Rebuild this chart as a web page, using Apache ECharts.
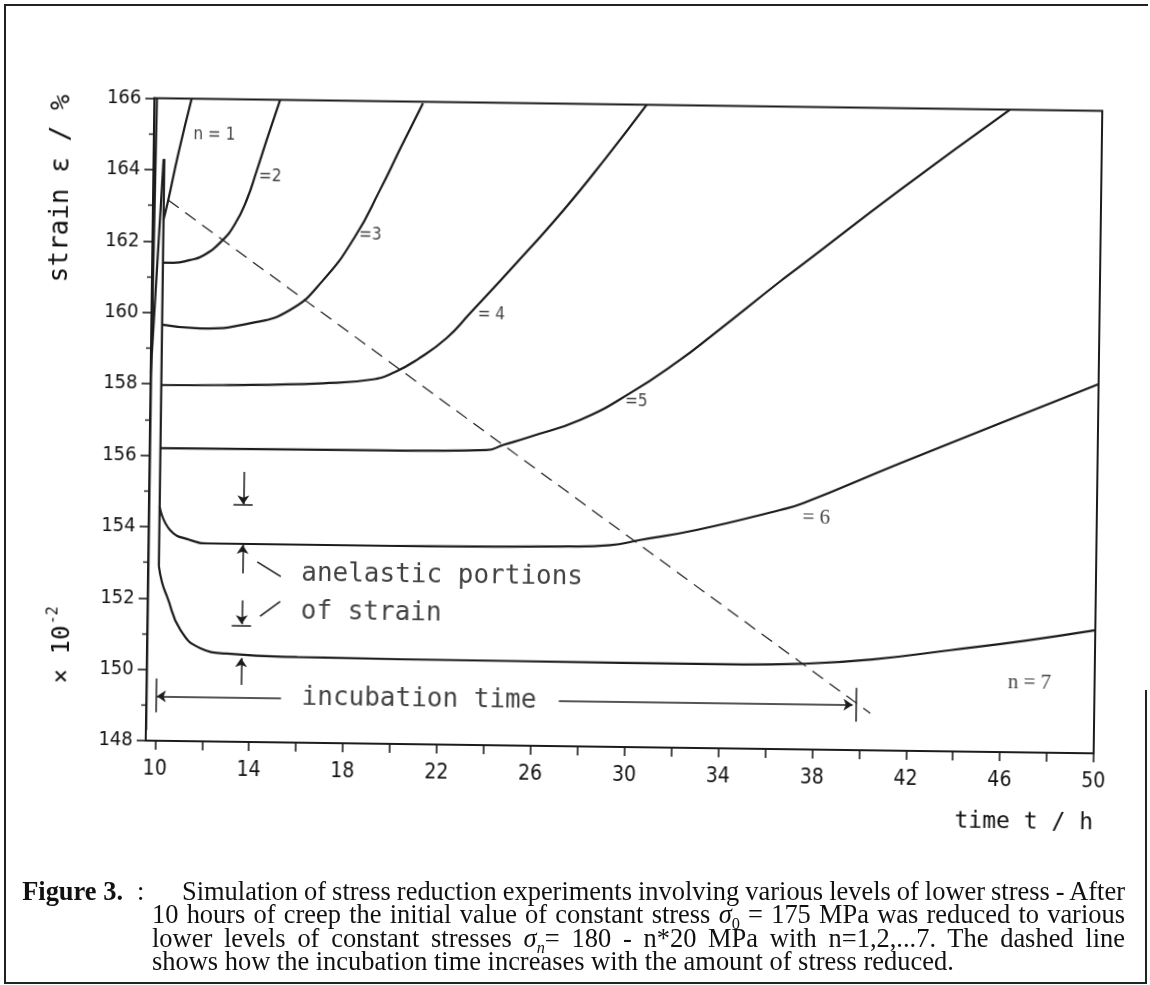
<!DOCTYPE html>
<html>
<head>
<meta charset="utf-8">
<script src="https://cdn.jsdelivr.net/npm/echarts@6/dist/echarts.min.js"></script>
<style>
  html, body { margin: 0; padding: 0; background: #fff; }
  #page { position: relative; width: 1150px; height: 985px; overflow: hidden; background: #fff; }
  #plot { position: absolute; left: 0; top: 0; width: 1150px; height: 985px;
          transform-origin: 624px 426px; transform: rotate(0.77deg); }
  .rule { position: absolute; background: #222; }
  .cap { position: absolute; font-family: "Liberation Serif", "DejaVu Serif", serif; font-size: 25px;
         line-height: 30px; color: #111; white-space: nowrap; }
  .cap sub { font-size: 0.62em; }
</style>
</head>
<body>
<div id="page">
  <div id="plot"></div>
  <div class="rule" style="left:4px;top:4px;width:1144px;height:2px"></div>
  <div class="rule" style="left:4px;top:4px;width:2px;height:980px"></div>
  <div class="rule" style="left:1145px;top:690px;width:2px;height:294px"></div>
  <div class="rule" style="left:4px;top:982px;width:1143px;height:2px"></div>

  <div class="cap" id="capFig"><b>Figure 3.</b></div>
  <div class="cap" id="capColon">:</div>
  <div class="cap" id="cap1">Simulation of stress reduction experiments involving various levels of lower stress - After</div>
  <div class="cap" id="cap2">10 hours of creep the initial value of constant stress <i>σ</i><sub>0</sub> = 175 MPa was reduced to various</div>
  <div class="cap" id="cap3">lower levels of constant stresses <i>σ<sub>n</sub></i>= 180 - n*20 MPa with n=1,2,...7. The dashed line</div>
  <div class="cap" id="cap4">shows how the incubation time increases with the amount of stress reduced.</div>
</div>
<script>
// Axis ticks and labels (time in h, strain in 1e-2 %)
const xTickValues  = [10, 12, 14, 16, 18, 20, 22, 24, 26, 28, 30, 32, 34, 36, 38, 40, 42, 44, 46, 48, 50];
const xLabelValues = [10, 14, 18, 22, 26, 30, 34, 38, 42, 46, 50];

// Creep before the stress reduction and the elastic drop at t = 10 h
const preCurve  = [[9.61, 148.3], [9.62, 158.8], [9.66, 162.0], [9.71, 166.0]];
const loadCurve = [[9.6, 158.3], [10.03, 164.3]];
const dropLine  = [[10.06, 164.3], [10.06, 152.9]];

// Strain curves after reduction to sigma_n, n = 1..7
const curveN1 = [[10.06, 162.6], [10.25, 163.15], [10.65, 164.45], [11.19, 166.0]];
const curveN2 = [[10.06, 161.4], [10.5, 161.4], [11.21, 161.48], [11.79, 161.62], [12.56, 162.03],
                 [13.1, 162.5], [13.59, 163.18], [14.0, 164.0], [14.47, 165.0], [14.96, 166.0]];
const curveN3 = [[10.06, 159.66], [11.68, 159.57], [13.8, 159.73], [15.5, 160.12], [16.9, 160.97],
                 [18.23, 162.2], [19.27, 163.52], [20.15, 164.74], [21.05, 165.96]];
const curveN4 = [[10.06, 157.97], [12.69, 157.99], [16.96, 158.08], [19.0, 158.2], [20.0, 158.42],
                 [21.0, 158.8], [22.19, 159.39], [23.17, 160.09], [24.99, 161.42], [27.1, 163.02],
                 [28.91, 164.53], [30.58, 166.0]];
const curveN5 = [[10.06, 156.2], [19.42, 156.22], [23.96, 156.27], [24.67, 156.42], [25.81, 156.66],
                 [27.93, 157.15], [30.02, 157.91], [32.15, 158.87], [33.56, 159.6], [36.36, 161.1],
                 [37.2, 161.53], [41.42, 163.71], [46.06, 166.0]];
const curveN6 = [[10.06, 154.56], [10.52, 153.91], [11.37, 153.64], [12.23, 153.55], [19.9, 153.55],
                 [27.5, 153.6], [29.27, 153.65], [30.55, 153.81], [32.95, 154.11], [36.49, 154.7],
                 [37.48, 154.9], [41.57, 156.05], [45.82, 157.21], [50.0, 158.35]];
const curveN7 = [[10.06, 152.9], [10.2, 152.45], [10.43, 152.04], [11.02, 151.11], [11.88, 150.61],
                 [13.0, 150.47], [16.0, 150.4], [25.0, 150.37], [35.0, 150.36], [37.5, 150.4],
                 [40.5, 150.55], [43.84, 150.84], [47.0, 151.13], [50.0, 151.45]];

// Incubation-time trend (dashed)
const incubationTrend = [[10.25, 163.15], [40.46, 149.04]];

// Arrow segments: anelastic portions and incubation time
const arrowSegments = [
  [[13.62, 155.57], [13.62, 154.66]],
  [[13.62, 152.72], [13.62, 153.52]],
  [[13.62, 151.97], [13.62, 151.3]],
  [[13.62, 149.6], [13.62, 150.35]],
  [[15.34, 149.25], [10.05, 149.25]],
  [[27.18, 149.27], [39.7, 149.27]]
];
const plainSegments = [
  [[13.2, 154.64], [14.02, 154.64]],
  [[13.2, 151.27], [14.02, 151.27]],
  [[10.0, 149.75], [10.0, 148.8]],
  [[39.83, 149.75], [39.83, 148.8]],
  [[14.25, 153.05], [15.26, 152.65]],
  [[14.4, 151.53], [15.25, 151.95]]
];

// Curve labels (left-middle anchor)
const sansLabels  = [
  { name: 'n = 1', value: [11.28, 164.99] },
  { name: '=2',    value: [14.1, 163.85] },
  { name: '=3',    value: [18.4, 162.25] },
  { name: '= 4',   value: [23.5, 160.05] },
  { name: '=5',    value: [29.83, 157.68] }
];
const serifLabels = [
  { name: '= 6',   value: [37.46, 154.48] },
  { name: 'n = 7', value: [46.3, 149.95] }
];
const noteLabels = [
  { name: 'anelastic portions', value: [16.13, 152.74] },
  { name: 'of strain',          value: [16.13, 151.66] },
  { name: 'incubation time',    value: [16.22, 149.25] }
];

const INK = '#1c1c1c';
const tickFont = '"DejaVu Sans Condensed", "DejaVu Sans", sans-serif';
const monoFont = '"DejaVu Sans Mono", monospace';

function curve(data, smooth) {
  return {
    type: 'line', data: data, symbol: 'none', showSymbol: false,
    smooth: smooth ? 0.5 : false,
    lineStyle: { color: INK, width: 2.2 }, silent: true, z: 3
  };
}
function textSeries(data, font, size) {
  return {
    type: 'scatter', data: data, symbolSize: 0, silent: true, z: 5,
    label: { show: true, position: 'right', distance: 0, formatter: '{b}',
             fontFamily: font, fontSize: size, color: '#111' }
  };
}

const chart = echarts.init(document.getElementById('plot'), null, { renderer: 'canvas' });
chart.setOption({
  animation: false,
  backgroundColor: 'transparent',
  grid: { left: 150, right: 52, top: 104.6, bottom: 237.9, show: true,
          borderColor: INK, borderWidth: 2, backgroundColor: 'transparent' },
  xAxis: {
    type: 'value', min: 9.6, max: 50,
    axisLine: { lineStyle: { color: INK, width: 2 } },
    axisTick: { show: true, customValues: xTickValues, length: 9, lineStyle: { color: INK, width: 1.6 } },
    axisLabel: { customValues: xLabelValues, margin: 18, fontFamily: tickFont, fontSize: 21, color: '#111',
                 formatter: v => String(v) },
    splitLine: { show: false }
  },
  yAxis: {
    type: 'value', min: 148, max: 166, interval: 2,
    axisLine: { show: true, lineStyle: { color: INK, width: 2 } },
    axisTick: { show: true, length: 9, lineStyle: { color: INK, width: 1.6 } },
    minorTick: { show: true, splitNumber: 2, length: 5, lineStyle: { color: INK, width: 1.4 } },
    axisLabel: { margin: 13, fontFamily: tickFont, fontSize: 20, color: '#111' },
    splitLine: { show: false }, minorSplitLine: { show: false }
  },
  series: [
    curve(preCurve, false),
    curve(loadCurve, false),
    curve(dropLine, false),
    curve(curveN1, true),
    curve(curveN2, true),
    curve(curveN3, true),
    curve(curveN4, true),
    curve(curveN5, true),
    curve(curveN6, true),
    curve(curveN7, true),
    {
      type: 'line', data: incubationTrend, symbol: 'none', silent: true, z: 2,
      lineStyle: { color: INK, width: 1.2, type: [13, 8] }
    },
    {
      type: 'lines', coordinateSystem: 'cartesian2d', silent: true, z: 4,
      symbol: ['none', 'arrow'], symbolSize: 9,
      lineStyle: { color: INK, width: 1.5, opacity: 1 },
      data: arrowSegments.map(c => ({ coords: c }))
    },
    {
      type: 'lines', coordinateSystem: 'cartesian2d', silent: true, z: 4,
      symbol: 'none',
      lineStyle: { color: INK, width: 1.5, opacity: 1 },
      data: plainSegments.map(c => ({ coords: c }))
    },
    textSeries(sansLabels, tickFont, 17),
    textSeries(serifLabels, '"Liberation Serif", serif', 21),
    textSeries(noteLabels, monoFont, 26)
  ],
  graphic: [
    { type: 'text', x: 58, y: 196, rotation: Math.PI / 2, silent: true,
      style: { text: 'strain ε / %', font: '26px ' + monoFont, align: 'center', verticalAlign: 'middle', fill: '#111' } },
    { type: 'group', x: 66, y: 662, rotation: Math.PI / 2, silent: true,
      children: [
        { type: 'text', x: 0, y: 0, style: { text: '× 10', font: '24px ' + monoFont, align: 'center', verticalAlign: 'middle', fill: '#111' } },
        { type: 'text', x: 30, y: -10, style: { text: '-2', font: '15px ' + monoFont, align: 'left', verticalAlign: 'middle', fill: '#111' } }
      ] },
    { type: 'text', x: 1029, y: 817, silent: true,
      style: { text: 'time t / h', font: '23px ' + monoFont, align: 'center', verticalAlign: 'middle', fill: '#111' } }
  ]
});

// Caption layout: font sized from the last (unjustified) line, lines 1-3 justified by word spacing
(function layoutCaption() {
  const LINE_H = 30;
  const last = document.getElementById('cap4');
  last.style.fontSize = '20px';
  const w20 = last.getBoundingClientRect().width;
  const F = 20 * 802 / w20;
  const rows = [
    { id: 'cap1', left: 182, right: 1125, base: 900.0 },
    { id: 'cap2', left: 152, right: 1125, base: 923.4 },
    { id: 'cap3', left: 152, right: 1125, base: 946.8 },
    { id: 'cap4', left: 152, right: null, base: 970.2 }
  ];
  const topFor = base => base - (LINE_H - 1.107 * F) / 2 - 0.891 * F;
  rows.forEach(r => {
    const el = document.getElementById(r.id);
    el.style.fontSize = F + 'px';
    el.style.left = r.left + 'px';
    el.style.top = topFor(r.base) + 'px';
    if (r.right !== null) {
      const natural = el.getBoundingClientRect().width;
      const gaps = el.textContent.trim().split(/\s+/).length - 1;
      el.style.wordSpacing = ((r.right - r.left - natural) / gaps) + 'px';
    }
  });
  const fig = document.getElementById('capFig');
  fig.style.fontSize = F + 'px';
  fig.style.top = topFor(900) + 'px';
  fig.style.left = (123 - fig.getBoundingClientRect().width) + 'px';
  const colon = document.getElementById('capColon');
  colon.style.fontSize = F + 'px';
  colon.style.top = topFor(900) + 'px';
  colon.style.left = '137px';
})();
</script>
</body>
</html>
